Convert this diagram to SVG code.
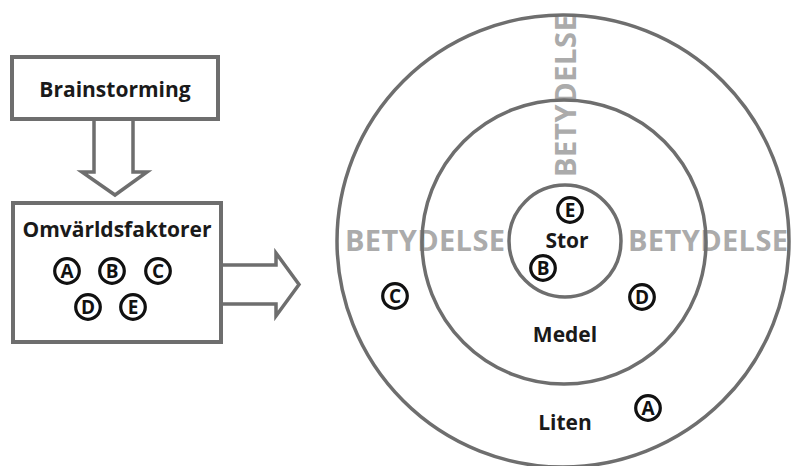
<svg xmlns="http://www.w3.org/2000/svg" width="792" height="466" viewBox="0 0 792 466">
<style>
.box{fill:#fff;stroke:#6e6e6e;stroke-width:4}
.arrow{fill:none;stroke:#6e6e6e;stroke-width:3.5;stroke-linejoin:miter}
.ring{fill:none;stroke:#6e6e6e;stroke-width:3.5}
.lbl{font-family:"Open Sans","Liberation Sans",sans-serif;font-weight:700;font-size:21px;fill:#1a1a1a;text-anchor:middle}
.bet{font-family:"Open Sans","Liberation Sans",sans-serif;font-weight:700;font-size:29px;fill:#ababab}
.cl circle{fill:none;stroke:#111;stroke-width:3.2}
.cl text{font-family:"Open Sans","Liberation Sans",sans-serif;font-weight:700;font-size:19px;fill:#111;text-anchor:middle}
</style>
<rect width="792" height="466" fill="#fff"/>
<defs>
<g id="cA" class="cl"><circle r="12.3"/><text y="6.8">A</text></g>
<g id="cB" class="cl"><circle r="12.3"/><text y="6.8">B</text></g>
<g id="cC" class="cl"><circle r="12.3"/><text y="6.8">C</text></g>
<g id="cD" class="cl"><circle r="12.3"/><text y="6.8">D</text></g>
<g id="cE" class="cl"><circle r="12.3"/><text y="6.8">E</text></g>
</defs>
<g id="connectors">
<path class="arrow" d="M94,119 V172 H82 L115,195 L147,172 H133 V119"/>
<path class="arrow" d="M221,265 H276 V253 L299,284.5 L276,316 V304 H221"/>
</g>
<g id="brainstorming">
<rect class="box" x="12" y="57" width="206" height="62"/>
<text class="lbl" x="115" y="97">Brainstorming</text>
</g>
<g id="omvarldsfaktorer">
<rect class="box" x="13" y="203" width="208" height="139"/>
<text class="lbl" x="117" y="237">Omvärldsfaktorer</text>
<use href="#cA" x="67" y="271"/>
<use href="#cB" x="112" y="271"/>
<use href="#cC" x="158" y="271"/>
<use href="#cD" x="88" y="307"/>
<use href="#cE" x="133" y="307"/>
</g>
<g id="target">
<text class="bet" x="345" y="251" textLength="160" lengthAdjust="spacing">BETYDELSE</text>
<text class="bet" x="628" y="251" textLength="160" lengthAdjust="spacing">BETYDELSE</text>
<text class="bet" transform="translate(576,177) rotate(-90)" textLength="162" lengthAdjust="spacing">BETYDELSE</text>
<circle class="ring" cx="563" cy="241" r="226"/>
<circle class="ring" cx="564" cy="242" r="142"/>
<circle class="ring" cx="565" cy="241" r="56"/>
<text class="lbl" x="567" y="248">Stor</text>
<text class="lbl" x="565" y="342">Medel</text>
<text class="lbl" x="565" y="430">Liten</text>
<use href="#cE" x="570" y="210"/>
<use href="#cB" x="543" y="268"/>
<use href="#cD" x="642" y="297"/>
<use href="#cC" x="395" y="296"/>
<use href="#cA" x="648" y="408"/>
</g>
</svg>
